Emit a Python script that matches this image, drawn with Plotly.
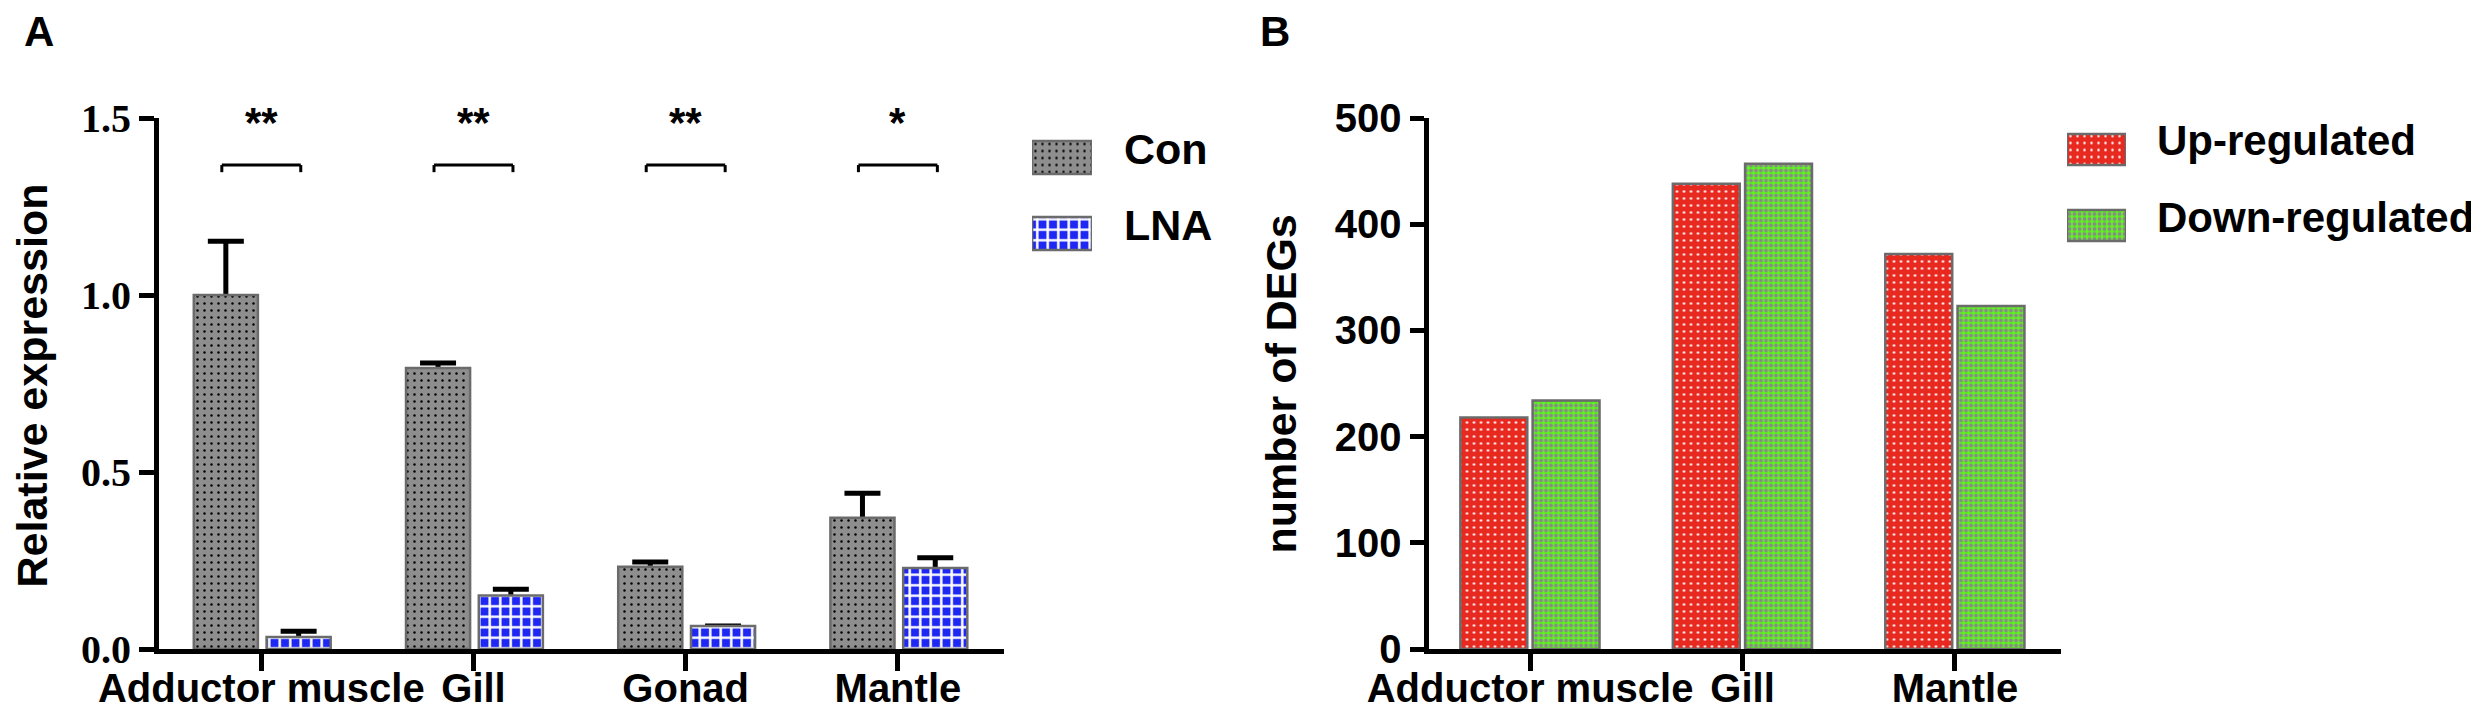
import plotly.graph_objects as go

W, H = 2479, 707

# ---------------- Panel A data ----------------
tissues_a = ["Adductor muscle", "Gill", "Gonad", "Mantle"]
con_vals = [1.0, 0.794, 0.232, 0.371]
con_err = [0.152, 0.014, 0.014, 0.069]
lna_vals = [0.034, 0.151, 0.065, 0.229]
lna_err = [0.016, 0.018, None, 0.029]
sig_labels = ["**", "**", "**", "*"]
a_tickvals = [0.0, 0.5, 1.0, 1.5]
a_ticktext = ["0.0", "0.5", "1.0", "1.5"]

# ---------------- Panel B data ----------------
tissues_b = ["Adductor muscle", "Gill", "Mantle"]
up_vals = [218, 438, 372]
down_vals = [234, 457, 323]
b_tickvals = [0, 100, 200, 300, 400, 500]

# legend swatch helper values (full-length swatches)
swatch_len = [1]


def px(xp):
    return xp / W


def py(yp):
    return 1 - yp / H


SANS = "Liberation Sans"
SERIF = "Liberation Serif"
OUTLINE = dict(color="#6b6b6b", width=2.5)

pat_con = dict(shape=".", bgcolor="#8e8e8e", fgcolor="#000000", size=7, solidity=0.1)
pat_lna = dict(shape="+", bgcolor="#1f27f2", fgcolor="#ffffff", size=10.5, solidity=0.42)
pat_up = dict(shape=".", bgcolor="#e8291f", fgcolor="#ffffff", size=7, solidity=0.1)
pat_down = dict(shape=".", bgcolor="#5cf51c", fgcolor="#8a8a8a", size=5, solidity=0.45)

fig = go.Figure()

# ---- Panel A: error bars first (lower half hidden under bars) ----
a_off = {"con": (-0.318, 0.302), "lna": (0.025, 0.302)}
for key, vals, err in [("con", con_vals, con_err), ("lna", lna_vals, lna_err)]:
    off, wd = a_off[key]
    fig.add_trace(go.Bar(
        x=tissues_a, y=vals, offset=off, width=wd,
        marker=dict(color="rgba(0,0,0,0)", line=dict(width=0)),
        error_y=dict(type="data", array=err, symmetric=True, color="black",
                     thickness=5, width=18),
        showlegend=False, hoverinfo="skip", xaxis="x", yaxis="y"))

fig.add_trace(go.Bar(
    x=tissues_a, y=con_vals, name="Con", offset=a_off["con"][0], width=a_off["con"][1],
    marker=dict(pattern=pat_con, line=OUTLINE), xaxis="x", yaxis="y", showlegend=False))
fig.add_trace(go.Bar(
    x=tissues_a, y=lna_vals, name="LNA", offset=a_off["lna"][0], width=a_off["lna"][1],
    marker=dict(pattern=pat_lna, line=OUTLINE), xaxis="x", yaxis="y", showlegend=False))

# ---- Panel B bars ----
fig.add_trace(go.Bar(
    x=tissues_b, y=up_vals, name="Up-regulated", offset=-0.328, width=0.315,
    marker=dict(pattern=pat_up, line=OUTLINE), xaxis="x2", yaxis="y2", showlegend=False))
fig.add_trace(go.Bar(
    x=tissues_b, y=down_vals, name="Down-regulated", offset=0.012, width=0.315,
    marker=dict(pattern=pat_down, line=OUTLINE), xaxis="x2", yaxis="y2", showlegend=False))

# ---- Legend swatches (drawn as bars on hidden mini-axes) ----
for pat, row, xa, ya, wd in [(pat_con, 0, "x3", "y3", 0.434), (pat_lna, 1, "x3", "y3", 0.434),
                             (pat_up, 0, "x4", "y4", 0.41), (pat_down, 1, "x4", "y4", 0.41)]:
    fig.add_trace(go.Bar(
        x=swatch_len, y=[row], orientation="h", width=wd,
        marker=dict(pattern=pat, line=OUTLINE), xaxis=xa, yaxis=ya,
        showlegend=False, hoverinfo="skip"))

# ---- Significance brackets & stars ----
shapes = []
annotations = []
for i, lab in enumerate(sig_labels):
    xl, xr = i - 0.186, i + 0.186
    ytop, ybot = 1.367, 1.347
    for (x0, y0, x1, y1) in [(xl, ytop, xr, ytop), (xl, ytop, xl, ybot), (xr, ytop, xr, ybot)]:
        shapes.append(dict(type="line", xref="x", yref="y", x0=x0, y0=y0, x1=x1, y1=y1,
                           line=dict(color="black", width=3)))
    annotations.append(dict(x=i, y=1.486, xref="x", yref="y", text=lab, showarrow=False,
                            xanchor="center", yanchor="middle",
                            font=dict(family=SANS, size=42, color="black", weight="bold")))

txt = dict(family=SANS, size=43, color="black", weight="bold")
txt_b = dict(family=SANS, size=42, color="black", weight="bold")
# Panel letters
annotations.append(dict(x=px(14), y=py(23), xref="paper", yref="paper", text="A",
                        showarrow=False, xanchor="left", yanchor="middle",
                        font=dict(family=SANS, size=42, color="black", weight="bold")))
annotations.append(dict(x=px(1250), y=py(23), xref="paper", yref="paper", text="B",
                        showarrow=False, xanchor="left", yanchor="middle",
                        font=dict(family=SANS, size=42, color="black", weight="bold")))
# Axis titles
annotations.append(dict(x=px(24), y=py(377.5), xref="paper", yref="paper",
                        text="Relative expression", textangle=-90, showarrow=False,
                        xanchor="center", yanchor="middle", font=txt))
annotations.append(dict(x=px(1272), y=py(376.5), xref="paper", yref="paper",
                        text="number of DEGs", textangle=-90, showarrow=False,
                        xanchor="center", yanchor="middle", font=txt))
# Legend texts
for label, xp, yp, f in [("Con", 1114, 141, txt), ("LNA", 1114, 217, txt),
                         ("Up-regulated", 2147, 133, txt_b),
                         ("Down-regulated", 2147, 209, txt_b)]:
    annotations.append(dict(x=px(xp), y=py(yp), xref="paper", yref="paper", text=label,
                            showarrow=False, xanchor="left", yanchor="middle", font=f))

axis_common = dict(showline=True, linewidth=5, linecolor="black", ticks="outside",
                   tickwidth=5, tickcolor="black", showgrid=False, zeroline=False,
                   fixedrange=True, automargin=False)
xtickfont = dict(family=SANS, size=40, color="black", weight="bold")
hidden = dict(visible=False, fixedrange=True, automargin=False, showgrid=False,
              zeroline=False)

ydom = [py(641), py(110)]

fig.update_layout(
    template="none",
    width=W, height=H, autosize=False,
    margin=dict(l=0, r=0, t=0, b=0, pad=0, autoexpand=False),
    paper_bgcolor="white", plot_bgcolor="white",
    barmode="overlay", showlegend=False,
    xaxis=dict(domain=[px(151), px(996)], range=[-0.482, 3.5], anchor="y",
               ticklen=17, tickangle=0, tickfont=xtickfont, ticklabelstandoff=-17,
               **axis_common),
    yaxis=dict(domain=ydom, range=[0, 1.5], anchor="x", tickvals=a_tickvals,
               ticktext=a_ticktext, ticklen=15,
               tickfont=dict(family=SERIF, size=40, color="black", weight="bold"),
               **axis_common),
    xaxis2=dict(domain=[px(1420.5), px(2053)], range=[-0.478, 2.499], anchor="y2",
                ticklen=17, tickangle=0, tickfont=xtickfont, ticklabelstandoff=-17,
                **axis_common),
    yaxis2=dict(domain=ydom, range=[0, 500], anchor="x2", tickvals=b_tickvals,
                ticklen=14, tickfont=dict(family=SANS, size=40, color="black", weight="bold"),
                **axis_common),
    xaxis3=dict(domain=[px(1024), px(1084)], range=[0, 1], anchor="y3", **hidden),
    yaxis3=dict(domain=[py(263.5), py(111.5)], range=[1.5, -0.5], anchor="x3", **hidden),
    xaxis4=dict(domain=[px(2059), px(2118)], range=[0, 1], anchor="y4", **hidden),
    yaxis4=dict(domain=[py(255.5), py(103.5)], range=[1.5, -0.5], anchor="x4", **hidden),
    shapes=shapes, annotations=annotations,
)

fig.write_html("out.html")
